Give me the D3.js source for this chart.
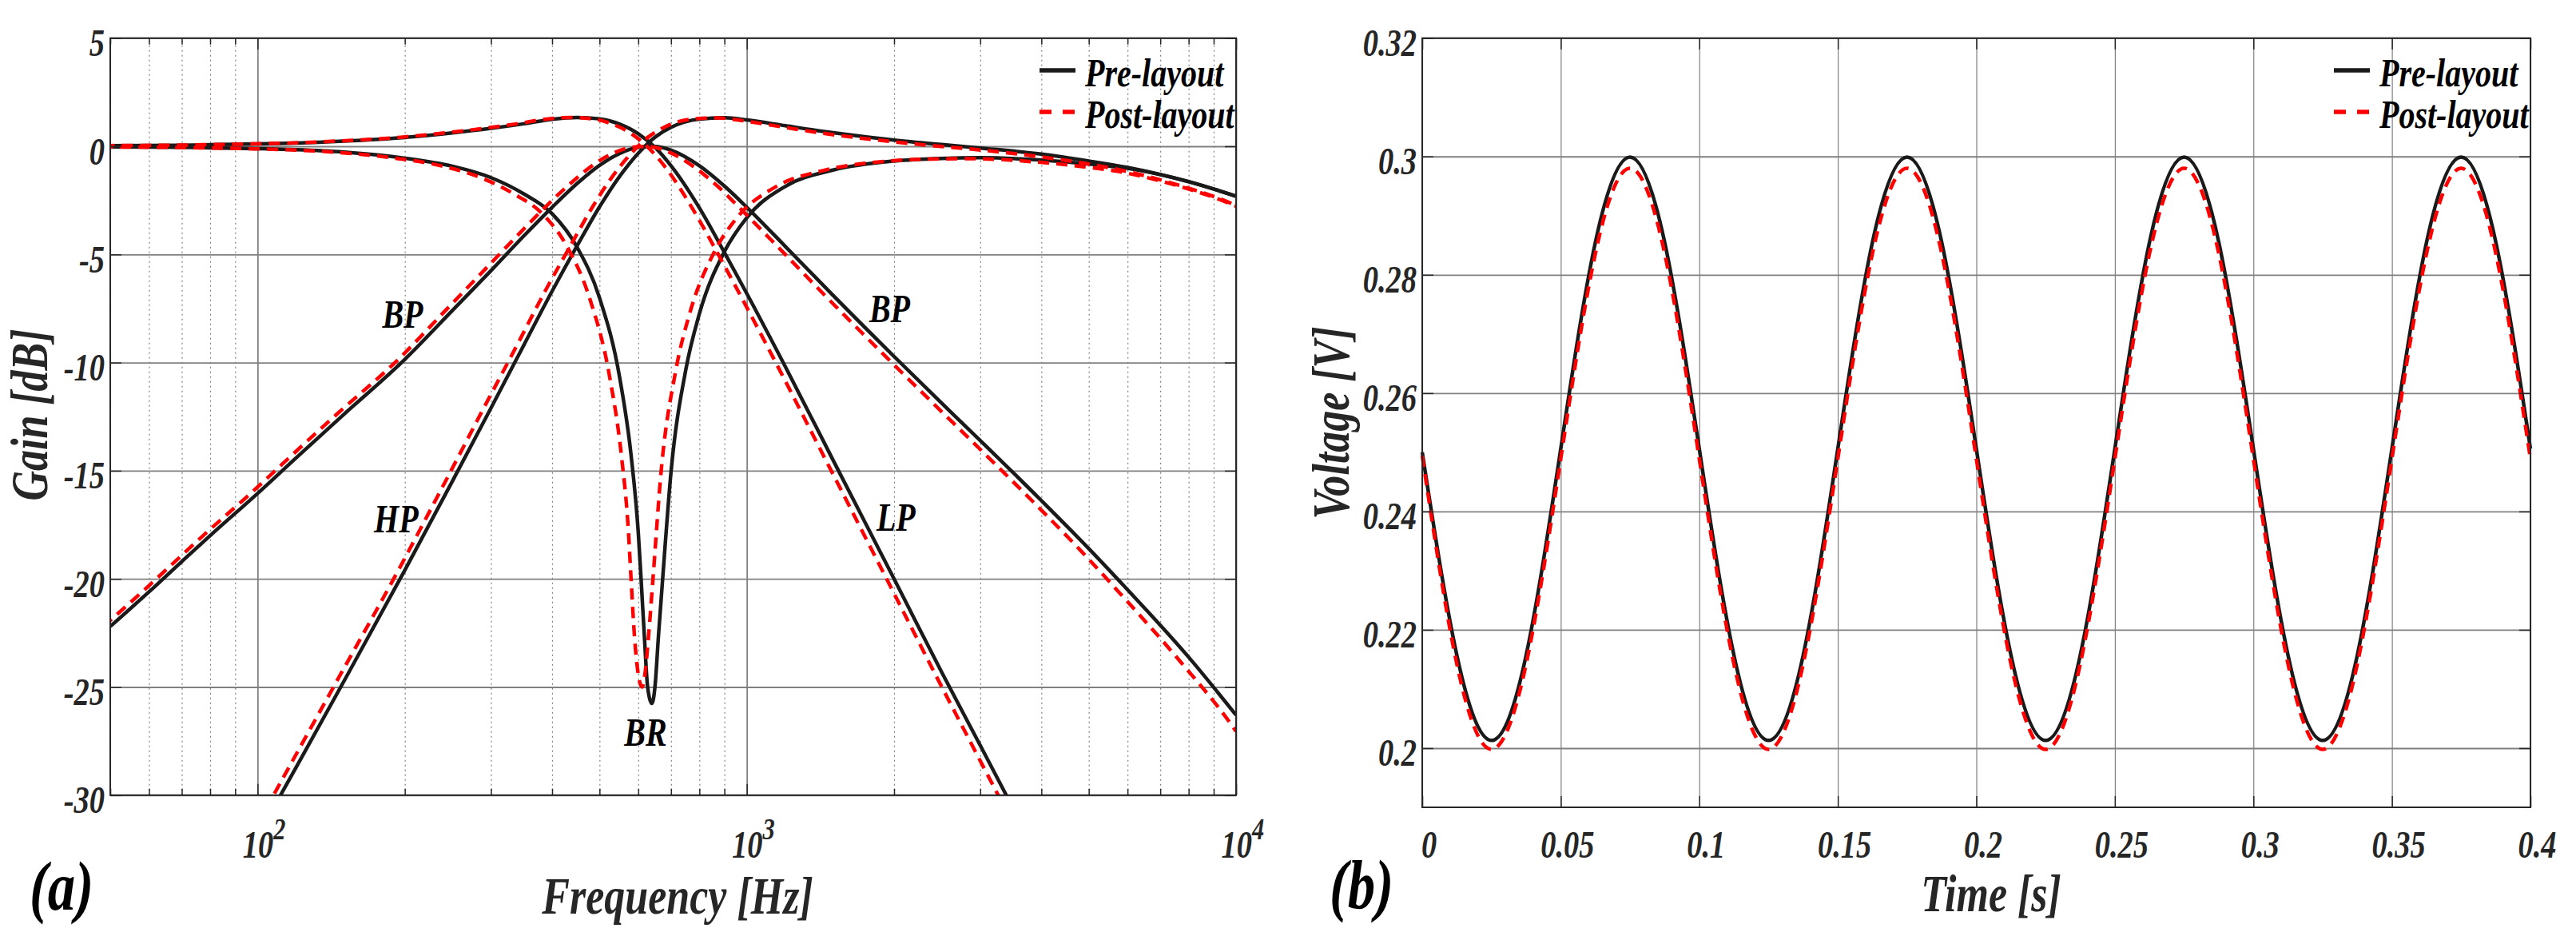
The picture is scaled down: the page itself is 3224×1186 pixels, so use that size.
<!DOCTYPE html>
<html>
<head>
<meta charset="utf-8">
<script src="https://cdn.jsdelivr.net/npm/d3@7"></script>
<style>
  body { margin: 0; background: #fff; }
  svg text { font-family: "Liberation Serif", "Times New Roman", serif; font-style: italic; font-weight: bold; }
</style>
</head>
<body>
<div id="chart"></div>
<script>
// (a) frequency response, pre-layout
const freqPre = [50, 60, 70, 80, 100, 120, 150, 200, 250, 300, 350, 400, 450, 500, 550, 600, 650, 700, 800, 900, 1000, 1200, 1500, 2000, 2500, 3000, 4000, 5000, 6000, 8000, 10000];
const lpPre = [0.03, 0.04, 0.05, 0.07, 0.11, 0.15, 0.24, 0.41, 0.62, 0.83, 1.04, 1.25, 1.33, 1.27, 1.02, 0.58, -0.06, -0.9, -2.85, -4.91, -6.81, -10.21, -14.5, -20.0, -24.3, -27.7, -33.1, -37.2, -40.6, -46.0, -50.0];
const hpPre = [-44.0, -40.9, -38.2, -35.8, -31.9, -28.7, -24.75, -19.6, -15.5, -12.1, -9.2, -6.7, -4.6, -2.8, -1.38, -0.32, 0.43, 0.88, 1.26, 1.32, 1.22, 0.95, 0.63, 0.29, 0.08, -0.08, -0.36, -0.68, -0.98, -1.64, -2.3];
const bpPre = [-22.2, -20.6, -19.2, -18.0, -16.05, -14.4, -12.4, -9.85, -7.6, -5.75, -4.15, -2.82, -1.72, -0.88, -0.33, -0.05, -0.01, -0.18, -0.9, -1.84, -2.82, -4.64, -6.89, -9.72, -11.87, -13.6, -16.38, -18.6, -20.5, -23.62, -26.3];
const brFreqPre = [50, 60, 70, 80, 100, 120, 150, 200, 250, 300, 350, 400, 450, 500, 550, 580, 600, 608, 618, 627, 640, 649, 660, 673, 700, 750, 800, 900, 1000, 1200, 1500, 2000, 2500, 3000, 4000, 5000, 6000, 8000, 10000];
const brPre = [-0.03, -0.04, -0.05, -0.07, -0.11, -0.16, -0.27, -0.55, -0.92, -1.45, -2.2, -3.12, -4.67, -7.01, -10.72, -14.27, -17.85, -20.0, -22.8, -25.0, -25.76, -25.0, -22.6, -20.0, -15.06, -10.36, -7.74, -4.87, -3.3, -1.85, -1.1, -0.68, -0.56, -0.53, -0.64, -0.82, -1.02, -1.63, -2.31];

// (a) frequency response, post-layout
const freqPost = [48.4, 58.1, 67.8, 77.4, 96.8, 116, 145, 194, 242, 290, 339, 387, 436, 484, 532, 581, 629, 678, 774, 871, 968, 1162, 1452, 1936, 2420, 2904, 3872, 4840, 5808, 7744, 9680, 10000];
const lpPost = [0.03, 0.04, 0.05, 0.07, 0.11, 0.15, 0.24, 0.41, 0.62, 0.83, 1.04, 1.25, 1.33, 1.27, 1.02, 0.58, -0.06, -0.9, -2.87, -4.93, -6.85, -10.26, -14.53, -20.05, -24.35, -27.8, -33.2, -37.4, -40.8, -46.2, -50.2, -50.8];
const hpPost = [-44.0, -40.9, -38.2, -35.8, -31.9, -28.7, -24.75, -19.6, -15.5, -12.1, -9.2, -6.7, -4.6, -2.8, -1.38, -0.32, 0.43, 0.88, 1.26, 1.31, 1.2, 0.92, 0.58, 0.24, 0.02, -0.14, -0.45, -0.77, -1.1, -1.84, -2.6, -2.74];
const bpPost = [-22.2, -20.6, -19.2, -18.0, -16.05, -14.4, -12.4, -9.85, -7.6, -5.75, -4.15, -2.82, -1.72, -0.88, -0.33, -0.05, -0.01, -0.18, -0.9, -1.84, -2.86, -4.69, -6.95, -9.79, -11.95, -13.7, -16.5, -18.75, -20.7, -23.9, -26.6, -27.05];
const brFreqPost = [48, 57, 67, 76, 95, 115, 143, 191, 239, 286, 334, 382, 430, 477, 525, 554, 573, 580, 590, 599, 611, 620, 630, 643, 668, 716, 764, 859, 955, 1146, 1432, 1909, 2387, 2864, 3819, 4774, 5728, 7638, 9547, 10000];
const brPost = [-0.03, -0.04, -0.05, -0.07, -0.11, -0.16, -0.27, -0.55, -0.92, -1.45, -2.2, -3.12, -4.67, -7.01, -10.72, -14.27, -17.85, -20.0, -22.8, -24.3, -25.0, -24.3, -22.6, -20.0, -15.06, -10.36, -7.74, -4.87, -3.3, -1.87, -1.12, -0.7, -0.59, -0.57, -0.71, -0.92, -1.16, -1.84, -2.58, -2.77];

const gainTicks = [-30, -25, -20, -15, -10, -5, 0, 5];
const curveTags = ["BP", "HP", "BP", "LP", "BR"];
const tagFreq = [198, 192, 1959, 2018, 621];
const tagGain = [-8.4, -17.86, -8.14, -17.79, -27.73];

// (b) transient output
const timeS = [0, 0.0125, 0.025, 0.0375, 0.05, 0.0625, 0.075, 0.0875, 0.1, 0.1125, 0.125, 0.1375, 0.15, 0.1625, 0.175, 0.1875, 0.2, 0.2125, 0.225, 0.2375, 0.25, 0.2625, 0.275, 0.2875, 0.3, 0.3125, 0.325, 0.3375, 0.35, 0.3625, 0.375, 0.3875, 0.4];
const vPre = [0.2500, 0.2157, 0.2013, 0.2157, 0.2506, 0.2855, 0.2999, 0.2855, 0.2506, 0.2157, 0.2013, 0.2157, 0.2506, 0.2855, 0.2999, 0.2855, 0.2506, 0.2157, 0.2013, 0.2157, 0.2506, 0.2855, 0.2999, 0.2855, 0.2506, 0.2157, 0.2013, 0.2157, 0.2506, 0.2855, 0.2999, 0.2855, 0.2506];
const vPost = [0.2494, 0.2142, 0.1998, 0.2142, 0.2489, 0.2836, 0.2980, 0.2836, 0.2489, 0.2142, 0.1998, 0.2142, 0.2489, 0.2836, 0.2980, 0.2836, 0.2489, 0.2142, 0.1998, 0.2142, 0.2489, 0.2836, 0.2980, 0.2836, 0.2489, 0.2142, 0.1998, 0.2142, 0.2489, 0.2836, 0.2980, 0.2836, 0.2489];
const timeTicks = [0, 0.05, 0.1, 0.15, 0.2, 0.25, 0.3, 0.35, 0.4];
const voltTicks = [0.2, 0.22, 0.24, 0.26, 0.28, 0.3, 0.32];

const legendNames = ["Pre-layout", "Post-layout"];

const W = 3224, H = 1186;
const SQ = 0.8; // the figure's lettering is narrow
const GRID = "#808080", INK = "#262626";

const svg = d3.select("#chart").append("svg")
    .attr("width", W)
    .attr("height", H)
    .style("background", "#fff");

function squeeze(sel, x, y) {
    sel.attr("x", x / SQ).attr("y", y).attr("dy", null).attr("transform", `scale(${SQ},1)`);
}

function frame(g, box, xs, ys, xMajor, xMinor, yMajor) {
    const w = box.right - box.left, h = box.bottom - box.top;
    const sides = [
        [d3.axisBottom, `translate(0,${box.bottom})`, xs, xMajor, xMinor],
        [d3.axisTop, `translate(0,${box.top})`, xs, xMajor, xMinor],
        [d3.axisLeft, `translate(${box.left},0)`, ys, yMajor, []],
        [d3.axisRight, `translate(${box.right},0)`, ys, yMajor, []]
    ];
    sides.forEach(([fn, tr, sc, major, minor]) => {
        [[major, 14], [minor, 8]].forEach(([vals, len]) => {
            if (!vals.length) return;
            g.append("g").attr("transform", tr)
                .call(fn(sc).tickValues(vals).tickSize(-len).tickFormat(""))
                .call(a => a.select(".domain").remove())
                .selectAll("line").attr("stroke", INK).attr("stroke-width", 1.5);
        });
    });
    g.append("rect")
        .attr("x", box.left).attr("y", box.top)
        .attr("width", w).attr("height", h)
        .attr("fill", "none").attr("stroke", INK).attr("stroke-width", 2);
}

function legend(g, box) {
    legendNames.forEach((name, i) => {
        const yy = [88, 140][i];
        g.append("line")
            .attr("x1", box.right - 246).attr("x2", box.right - 201)
            .attr("y1", yy).attr("y2", yy)
            .attr("stroke", i ? "#ff0000" : "#1a1a1a")
            .attr("stroke-width", 5.5)
            .attr("stroke-dasharray", i ? "15,14" : null);
        g.append("text")
            .attr("font-size", 50)
            .attr("fill", "#000")
            .text(name)
            .call(t => squeeze(t, box.right - 189, yy + 20));
    });
}

// ---------- panel (a) ----------
const boxA = {left: 138, right: 1547, top: 47.7, bottom: 994.8};
const x = d3.scaleLog().domain([50, 10000]).range([boxA.left, boxA.right]);
const y = d3.scaleLinear().domain([-30, 5]).range([boxA.bottom, boxA.top]);
const isDecade = d => Math.abs(Math.log10(d) - Math.round(Math.log10(d))) < 1e-9;
const fMajor = x.ticks().filter(isDecade);
const fMinor = x.ticks().filter(d => !isDecade(d));

const gA = svg.append("g");

gA.append("g").attr("transform", `translate(0,${boxA.bottom})`)
    .call(d3.axisBottom(x).tickValues(fMinor).tickSize(-(boxA.bottom - boxA.top)).tickFormat(""))
    .call(a => a.select(".domain").remove())
    .selectAll("line").attr("stroke", GRID).attr("stroke-width", 1.2).attr("stroke-dasharray", "2,4");
gA.append("g").attr("transform", `translate(0,${boxA.bottom})`)
    .call(d3.axisBottom(x).tickValues(fMajor).tickSize(-(boxA.bottom - boxA.top)).tickFormat(""))
    .call(a => a.select(".domain").remove())
    .selectAll("line").attr("stroke", GRID).attr("stroke-width", 1.8);
gA.append("g").attr("transform", `translate(${boxA.left},0)`)
    .call(d3.axisLeft(y).tickValues(gainTicks).tickSize(-(boxA.right - boxA.left)).tickFormat(""))
    .call(a => a.select(".domain").remove())
    .selectAll("line").attr("stroke", GRID).attr("stroke-width", 1.8);

svg.append("clipPath").attr("id", "clipA")
    .append("rect")
    .attr("x", boxA.left).attr("y", boxA.top)
    .attr("width", boxA.right - boxA.left).attr("height", boxA.bottom - boxA.top);

const lineA = d3.line().x(d => x(d[0])).y(d => y(d[1])).curve(d3.curveMonotoneX);
const preA = [[freqPre, lpPre], [freqPre, hpPre], [freqPre, bpPre], [brFreqPre, brPre]];
const postA = [[freqPost, lpPost], [freqPost, hpPost], [freqPost, bpPost], [brFreqPost, brPost]];

const curvesA = gA.append("g").attr("clip-path", "url(#clipA)");
preA.forEach(([fs, vs]) => {
    curvesA.append("path")
        .attr("d", lineA(fs.map((f, i) => [f, vs[i]])))
        .attr("fill", "none").attr("stroke", "#1a1a1a")
        .attr("stroke-width", 4.5).attr("stroke-linejoin", "round");
});
postA.forEach(([fs, vs]) => {
    curvesA.append("path")
        .attr("d", lineA(fs.map((f, i) => [f, vs[i]])))
        .attr("fill", "none").attr("stroke", "#ff0000")
        .attr("stroke-width", 4.5).attr("stroke-dasharray", "14,9");
});

frame(gA, boxA, x, y, fMajor, fMinor, gainTicks);

gA.append("g").attr("transform", `translate(${boxA.left},0)`)
    .call(d3.axisLeft(y).tickValues(gainTicks).tickSize(0).tickFormat(d => String(d)))
    .call(a => a.select(".domain").remove())
    .selectAll("text")
    .attr("font-size", 48).attr("fill", INK).attr("font-family", null)
    .call(t => squeeze(t, -7, 22));

gA.append("g").attr("transform", `translate(0,${boxA.bottom})`)
    .call(d3.axisBottom(x).tickValues(fMajor).tickSize(0))
    .call(a => a.select(".domain").remove())
    .selectAll("text")
    .attr("font-size", 48).attr("fill", INK).attr("font-family", null)
    .attr("text-anchor", "start")
    .each(function (d) {
        const t = d3.select(this).text(null);
        squeeze(t, -19, 78);
        t.append("tspan").text("10");
        t.append("tspan").attr("font-size", 38).attr("dy", -23).text(Math.round(Math.log10(d)));
    });

curveTags.forEach((tag, i) => {
    gA.append("text")
        .attr("font-size", 50).attr("fill", "#000")
        .attr("text-anchor", "middle")
        .text(tag)
        .call(t => squeeze(t, x(tagFreq[i]), y(tagGain[i])));
});

legend(gA, boxA);

gA.append("text")
    .attr("font-size", 65).attr("fill", INK).attr("text-anchor", "middle")
    .attr("transform", `translate(848,1143) scale(${SQ},1)`)
    .text("Frequency [Hz]");
gA.append("text")
    .attr("font-size", 65).attr("fill", INK).attr("text-anchor", "middle")
    .attr("transform", `translate(59,519) rotate(-90) scale(${SQ},1)`)
    .text("Gain [dB]");
gA.append("text")
    .attr("font-size", 86).attr("fill", "#000").attr("text-anchor", "middle")
    .attr("transform", `translate(77,1138) scale(${SQ},1)`)
    .text("(a)");

// ---------- panel (b) ----------
const boxB = {left: 1780, right: 3167, top: 47.7, bottom: 1010};
const xt = d3.scaleLinear().domain([0, 0.4]).range([boxB.left, boxB.right]);
const yv = d3.scaleLinear().domain([0.19, 0.32]).range([boxB.bottom, boxB.top]);

const gB = svg.append("g");

gB.append("g").attr("transform", `translate(0,${boxB.bottom})`)
    .call(d3.axisBottom(xt).tickValues(timeTicks).tickSize(-(boxB.bottom - boxB.top)).tickFormat(""))
    .call(a => a.select(".domain").remove())
    .selectAll("line").attr("stroke", GRID).attr("stroke-width", 1.2);
gB.append("g").attr("transform", `translate(${boxB.left},0)`)
    .call(d3.axisLeft(yv).tickValues(voltTicks).tickSize(-(boxB.right - boxB.left)).tickFormat(""))
    .call(a => a.select(".domain").remove())
    .selectAll("line").attr("stroke", GRID).attr("stroke-width", 1.8);

const lineB = d3.line().x(d => xt(d[0])).y(d => yv(d[1])).curve(d3.curveNatural);
gB.append("path")
    .attr("d", lineB(timeS.map((t, i) => [t, vPre[i]])))
    .attr("fill", "none").attr("stroke", "#1a1a1a").attr("stroke-width", 4.5);
gB.append("path")
    .attr("d", lineB(timeS.map((t, i) => [t, vPost[i]])))
    .attr("fill", "none").attr("stroke", "#ff0000")
    .attr("stroke-width", 4.5).attr("stroke-dasharray", "14,9");

frame(gB, boxB, xt, yv, timeTicks, [], voltTicks);

gB.append("g").attr("transform", `translate(${boxB.left},0)`)
    .call(d3.axisLeft(yv).tickValues(voltTicks).tickSize(0).tickFormat(d => String(+d.toFixed(2))))
    .call(a => a.select(".domain").remove())
    .selectAll("text")
    .attr("font-size", 48).attr("fill", INK).attr("font-family", null)
    .call(t => squeeze(t, -7, 22));

gB.append("g").attr("transform", `translate(0,${boxB.bottom})`)
    .call(d3.axisBottom(xt).tickValues(timeTicks).tickSize(0).tickFormat(d => String(+d.toFixed(2))))
    .call(a => a.select(".domain").remove())
    .selectAll("text")
    .attr("font-size", 48).attr("fill", INK).attr("font-family", null)
    .attr("text-anchor", "middle")
    .call(t => squeeze(t, 8, 63));

legend(gB, boxB);

gB.append("text")
    .attr("font-size", 65).attr("fill", INK).attr("text-anchor", "middle")
    .attr("transform", `translate(2492,1140) scale(${SQ},1)`)
    .text("Time [s]");
gB.append("text")
    .attr("font-size", 65).attr("fill", INK).attr("text-anchor", "middle")
    .attr("transform", `translate(1688,529) rotate(-90) scale(${SQ},1)`)
    .text("Voltage [V]");
gB.append("text")
    .attr("font-size", 86).attr("fill", "#000").attr("text-anchor", "middle")
    .attr("transform", `translate(1704,1136) scale(${SQ},1)`)
    .text("(b)");
</script>
</body>
</html>
